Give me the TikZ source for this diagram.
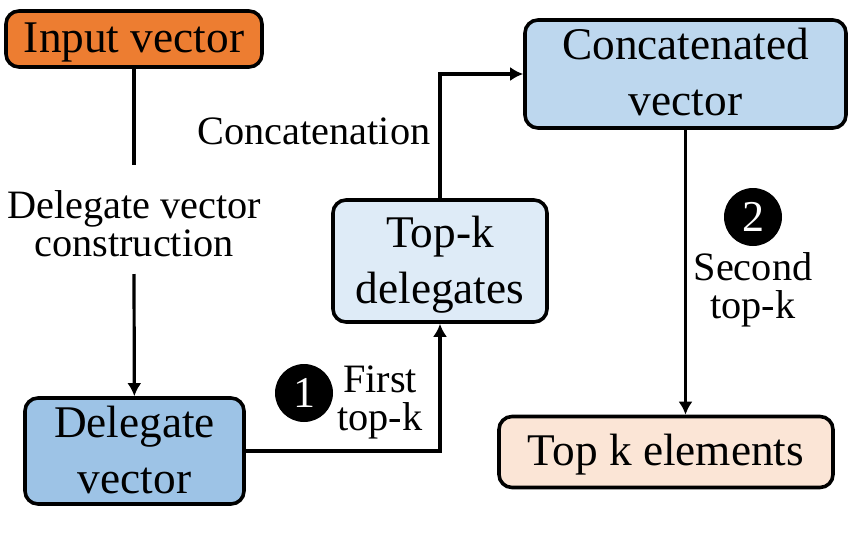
\documentclass[tikz,border=0pt]{standalone}
\usepackage{fontspec}
\setmainfont{Liberation Serif}
\usetikzlibrary{positioning}
\usetikzlibrary{arrows.meta}
\definecolor{inputcol}{HTML}{ED7D31}
\definecolor{delegcol}{HTML}{9DC3E6}
\definecolor{concatcol}{HTML}{BDD7EE}
\definecolor{topcol}{HTML}{DEEBF7}
\definecolor{elemcol}{HTML}{FBE5D6}
\tikzset{
	block/.style={draw=black, line width=3.6pt, rounded corners=13pt, inner sep=0pt},
	blocktext/.style={align=center, inner sep=0pt, font=\fontsize{45.3}{56}\selectfont},
	lab/.style={align=center, inner sep=0pt, font=\fontsize{40.3}{38}\selectfont},
	badge/.style={circle, fill=black, text=white, inner sep=0pt, minimum size=58pt, font=\fontsize{44}{44}\selectfont},
	conn/.style={line width=3.2pt, -{Latex[length=13pt,width=14pt]}}
}
\begin{document}
\begin{tikzpicture}[x=1pt,y=-1pt]
	\useasboundingbox (0,0) rectangle (865,533);
	
	% Boxes
	\node[block, fill=inputcol, minimum width=256pt, minimum height=56pt] (input) at (134,39)
	[label={[blocktext, yshift=-3pt]center:Input vector}] {};
	\node[block, fill=delegcol, minimum width=219pt, minimum height=106pt] (delegate) at (134.5,451)
	[label={[blocktext, yshift=1.5pt]center:Delegate\\vector}] {};
	\node[block, fill=topcol, minimum width=214pt, minimum height=122pt] (topk) at (440,261)
	[label={[blocktext, yshift=-4pt]center:Top-k\\delegates}] {};
	\node[block, fill=concatcol, minimum width=321pt, minimum height=108pt] (concat) at (685.5,74)
	[label={[blocktext, yshift=2pt]center:Concatenated\\vector}] {};
	\node[block, fill=elemcol, minimum width=334pt, minimum height=71pt] (elements) at (666,452)
	[label={[blocktext, yshift=-3pt]center:Top k elements}] {};
	
	% Labels
	\node[lab] (construct) at (134,224) {Delegate vector\\construction};
	\node[lab] (concatlab) at (314,131) {Concatenation};
	\node[lab] (firstlab) at (380,402.5) {First\\top-k};
	\node[lab] (secondlab) at (753,290) {Second\\top-k};
	\node[badge] (one) at (304,393) {1};
	\node[badge] (two) at (753,217) {2};
	
	% Connectors
	\draw[line width=3.2pt] (input) -- (134,165);
	\draw[conn] (134,274) -- (delegate);
	\draw[conn] (delegate.east) -| (topk.south);
	\draw[conn] (topk.north) |- (concat.west);
	\draw[conn] (concat.south) -- (elements.north -| concat.south);
\end{tikzpicture}
\end{document}
